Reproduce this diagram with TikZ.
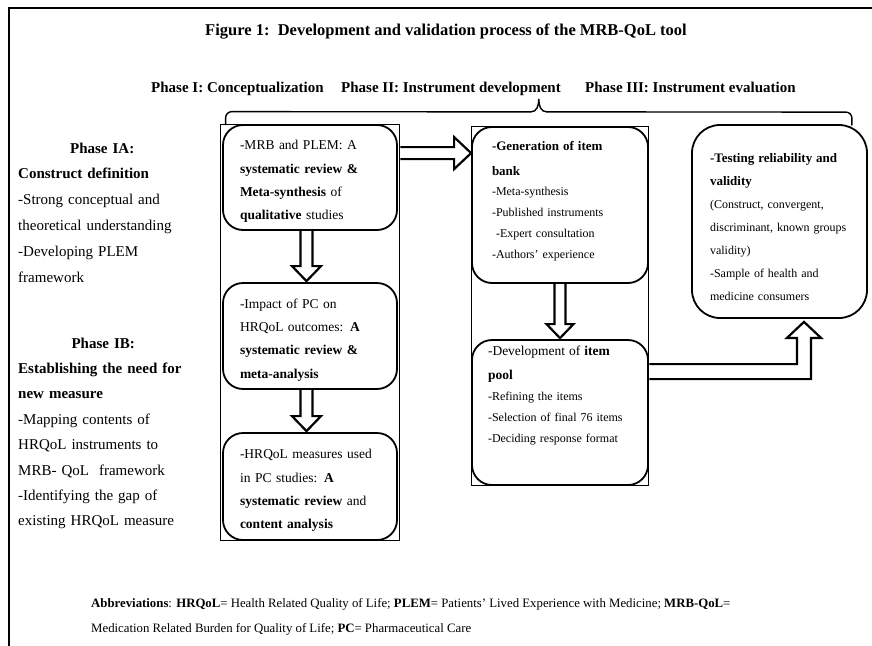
\documentclass[tikz,border=0pt]{standalone}
\usepackage{fontspec}
\setmainfont{Liberation Serif}
\usetikzlibrary{calc,fit}

\tikzset{
	box/.style={draw, line width=1.8pt, rounded corners=20pt, align=left, inner ysep=0pt},
	colframe/.style={draw, line width=0.9pt, inner ysep=0pt},
	blockarr/.style={draw, line width=2.2pt, line join=miter},
	bracket/.style={line width=1.4pt, line cap=round},
	head/.style={anchor=base west, inner sep=0pt, font=\fontsize{15}{18}\selectfont\bfseries},
	side/.style={anchor=north west, inner sep=0pt, align=left, text width=190pt},
}

\begin{document}
\begin{tikzpicture}[x=1pt, y=-1pt]
			\useasboundingbox (0,0) rectangle (872,645);
			\clip (0,0) rectangle (872,645);
			\draw[line width=1.2pt] (9,660) -- (9,8) -- (885,8);
			\node[anchor=base, inner sep=0pt, font=\fontsize{16.5}{20}\selectfont\bfseries] (title) at (446,35) {Figure 1:\ \ Development and validation process of the MRB-QoL tool};
			\node[head] (h1) at (151,92) {Phase I: Conceptualization};
			\node[head] (h2) at (341,92) {Phase II: Instrument development};
			\node[head] (h3) at (585,92) {Phase III: Instrument evaluation};

			\node[side, font=\fontsize{15}{25.8}\selectfont] (pIA) at (18,142.5) {\makebox[168pt]{\textbf{Phase IA:}}\\ \textbf{Construct definition}\\ -Strong conceptual and\\ theoretical understanding\\ -Developing PLEM\\ framework};
			\node[side, font=\fontsize{15}{25.4}\selectfont] (pIB) at (18,337.5) {\makebox[170pt]{\textbf{Phase IB:}}\\ \textbf{Establishing the need for}\\ \textbf{new measure}\\ -Mapping contents of\\ HRQoL instruments to\\ MRB- QoL\ \ framework\\ -Identifying the gap of\\ existing HRQoL measure};

			\node[box, inner xsep=17pt, text width=140pt, minimum height=105pt, font=\fontsize{13.5}{23.3}\selectfont] (b1) at (310,177.5) {\mbox{}\\[-6pt] -MRB and PLEM: A\\ \textbf{systematic review \&}\\ \textbf{Meta-synthesis} of\\ \textbf{qualitative} studies};
			\node[box, inner xsep=17pt, text width=140pt, minimum height=106pt, font=\fontsize{13.5}{23.3}\selectfont] (b2) at (310,336) {\mbox{}\\[-6pt] -Impact of PC on\\ HRQoL outcomes: \textbf{A}\\ \textbf{systematic review \&}\\ \textbf{meta-analysis}};
			\node[box, inner xsep=17pt, text width=140pt, minimum height=107pt, font=\fontsize{13.5}{23.3}\selectfont] (b3) at (310,486.5) {\mbox{}\\[-6pt] -HRQoL measures used\\ in PC studies: \textbf{A}\\ \textbf{systematic review} and\\ \textbf{content analysis}};
			\node[box, inner xsep=20pt, text width=136pt, minimum height=156pt, font=\fontsize{12}{21}\selectfont] (b4) at (560,205) {{\fontsize{13}{13}\selectfont\bfseries -Generation of item}\\[4pt] {\fontsize{13}{13}\selectfont\bfseries bank}\\[-1pt] -Meta-synthesis\\ -Published instruments\\ \ -Expert consultation\\ -Authors' experience\\[-11pt]\mbox{}};
			\node[box, inner xsep=16pt, text width=144pt, minimum height=145pt, font=\fontsize{12}{21}\selectfont] (b5) at (560,412.5) {{\fontsize{13.5}{13.5}\selectfont -Development of \textbf{item}}\\[3pt] {\fontsize{13.5}{13.5}\selectfont\bfseries pool}\\ -Refining the items\\ -Selection of final 76 items\\ -Deciding response format\\[15pt]\mbox{}};
			\node[box, rounded corners=28pt, inner xsep=18pt, text width=139pt, minimum height=193pt, font=\fontsize{12}{23}\selectfont] (b6) at (779.5,221.5) {\mbox{}\\[-2pt] {\fontsize{13}{13}\selectfont\bfseries -Testing reliability and}\\ {\fontsize{13}{13}\selectfont\bfseries validity}\\ (Construct, convergent,\\ discriminant, known groups\\ validity)\\ -Sample of health and\\ medicine consumers};

			\node[colframe, inner xsep=2pt, fit=(b1)(b3)] (col1) {};
			\node[colframe, inner xsep=0pt, fit=(b4)(b5)] (col2) {};

			\coordinate (bl) at ($(col1.north west)+(6,1)$);
			\coordinate (br) at ($(b6.north east)+(-16,1)$);
			\coordinate (bm) at ($(bl)!0.5!(br)+(0,-26)$);
			\draw[bracket, rounded corners=6pt] (bl) -- ++(0,-13) -- ($(bm)+(-8,13)$);
			\draw[bracket] ($(bm)+(-8,13)$) .. controls ($(bm)+(-2,13)$) and ($(bm)+(0,7)$) .. (bm) .. controls ($(bm)+(0,7)$) and ($(bm)+(2,13)$) .. ($(bm)+(8,13)$);
			\draw[bracket, rounded corners=6pt] ($(bm)+(8,13)$) -- ($(br)+(0,-13)$) -- (br);

			\draw[blockarr] ($(b1.south)+(-9.5,0)$) -- ($(b2.north)+(-9.5,-16)$) -- ($(b2.north)+(-18,-16)$) -- ($(b2.north)+(-3.5,-1)$) -- ($(b2.north)+(11,-16)$) -- ($(b2.north)+(2.5,-16)$) -- ($(b1.south)+(2.5,0)$);
			\draw[blockarr] ($(b2.south)+(-9.5,0)$) -- ($(b3.north)+(-9.5,-16)$) -- ($(b3.north)+(-18,-16)$) -- ($(b3.north)+(-3.5,-1)$) -- ($(b3.north)+(11,-16)$) -- ($(b3.north)+(2.5,-16)$) -- ($(b2.south)+(2.5,0)$);
			\draw[blockarr] ($(b4.south)+(-5.5,0)$) -- ($(b5.north)+(-5.5,-15)$) -- ($(b5.north)+(-13.5,-15)$) -- ($(b5.north)+(0,-1)$) -- ($(b5.north)+(13.5,-15)$) -- ($(b5.north)+(5.5,-15)$) -- ($(b4.south)+(5.5,0)$);

			\coordinate (tip1) at ($(b4.north west)+(0,27)$);
			\coordinate (s1) at (col1.east |- tip1);
			\draw[blockarr] ($(s1)+(0,-6)$) -- ($(tip1)+(-17,-6)$) -- ($(tip1)+(-17,-16)$) -- (tip1) -- ($(tip1)+(-17,16)$) -- ($(tip1)+(-17,6)$) -- ($(s1)+(0,6)$);

			\coordinate (tip2) at ($(b6.south)+(24.5,3)$);
			\coordinate (s2) at ($(col2.east |- b5.north)+(0,25)$);
			\draw[blockarr] (s2) -| ($(tip2)+(-7,16)$) -- ++(-10,0) -- (tip2) -- ($(tip2)+(17,16)$) -- ++(-10,0) |- ($(s2)+(0,15)$);

			\node[anchor=north west, inner sep=0pt, align=left, font=\fontsize{12.8}{25}\selectfont] (abbr) at (91,598) {\textbf{Abbreviations}: \textbf{HRQoL}= Health Related Quality\ of\ Life; \textbf{PLEM}= Patients' Lived Experience with Medicine; \textbf{MRB-QoL}=\\ Medication Related Burden for Quality of Life; \textbf{PC}= Pharmaceutical Care};
		\end{tikzpicture}
\end{document}
